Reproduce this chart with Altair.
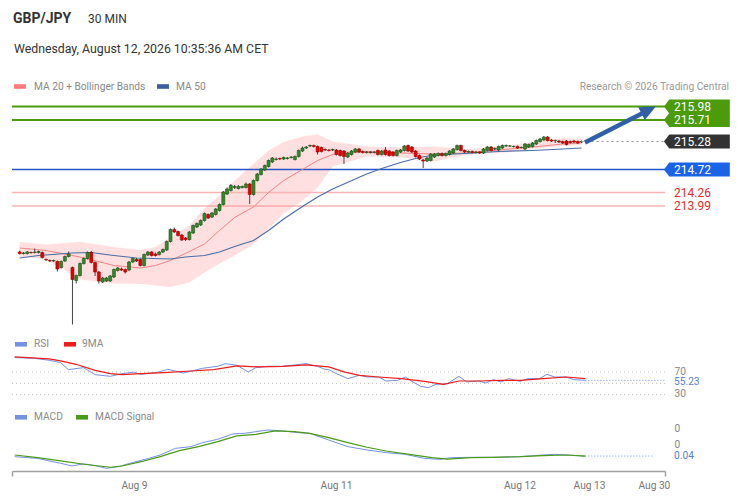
import math
import altair as alt
import pandas as pd

# ---------------- data ----------------
opens = [
    213.07, 213.04, 213.04, 213.06, 213.06, 213.06, 213.06, 212.92, 212.90, 212.89,
    212.88, 212.76, 212.89, 212.98, 212.76, 212.50, 212.60, 212.84, 212.94, 213.06,
    212.86, 212.67, 212.47, 212.49, 212.49, 212.57, 212.70, 212.73, 212.72, 212.71,
    212.87, 212.92, 212.92, 212.80, 213.01, 213.07, 213.03, 213.02, 213.07, 213.11,
    213.28, 213.52, 213.48, 213.41, 213.35, 213.32, 213.45, 213.57, 213.61, 213.70,
    213.82, 213.77, 213.82, 213.90, 214.02, 214.23, 214.30, 214.36, 214.34, 214.36,
    214.36, 214.43, 214.22, 214.50, 214.62, 214.71, 214.78, 214.87, 214.92, 214.94,
    214.93, 214.94, 214.96, 214.92, 214.98, 215.09, 215.15, 215.19, 215.20, 215.18,
    215.16, 215.12, 215.11, 215.11, 215.11, 215.10, 215.09, 214.97, 215.02, 215.07,
    215.13, 215.08, 215.06, 215.07, 215.06, 215.10, 215.02, 215.11, 215.09, 215.07,
    215.00, 215.07, 215.10, 215.20, 215.17, 215.09, 215.00, 214.91, 214.89, 214.90,
    214.97, 215.00, 215.04, 215.00, 215.02, 215.05, 215.12, 215.20, 215.10, 215.07,
    215.08, 215.06, 215.07, 215.05, 215.10, 215.17, 215.13, 215.11, 215.15, 215.19,
    215.19, 215.18, 215.18, 215.16, 215.13, 215.17, 215.18, 215.23, 215.28, 215.31,
    215.37, 215.31, 215.30, 215.29, 215.28, 215.29, 215.28, 215.29, 215.28, 215.27,
]
closes = [
    213.04, 213.05, 213.07, 213.055, 213.07, 213.08, 212.96, 212.91, 212.89, 212.90,
    212.73, 212.88, 212.98, 213.03, 212.52, 212.60, 212.84, 212.94, 213.06, 212.86,
    212.67, 212.49, 212.55, 212.55, 212.59, 212.72, 212.75, 212.71, 212.67, 212.87,
    212.94, 212.89, 212.80, 213.02, 213.07, 213.00, 213.00, 213.07, 213.12, 213.28,
    213.52, 213.47, 213.40, 213.31, 213.32, 213.47, 213.60, 213.64, 213.70, 213.84,
    213.75, 213.85, 213.93, 214.02, 214.27, 214.33, 214.40, 214.38, 214.38, 214.38,
    214.43, 214.22, 214.50, 214.63, 214.73, 214.80, 214.90, 214.95, 214.93, 214.93,
    214.96, 214.95, 214.97, 214.98, 215.10, 215.15, 215.17, 215.20, 215.18, 215.07,
    215.08, 215.11, 215.10, 215.12, 215.02, 215.00, 214.98, 215.05, 215.09, 215.13,
    215.07, 215.06, 215.07, 215.06, 215.07, 215.02, 215.09, 215.02, 215.00, 215.00,
    215.10, 215.11, 215.19, 215.09, 215.07, 214.98, 214.93, 214.89, 214.95, 215.03,
    215.03, 215.04, 215.00, 215.04, 215.09, 215.13, 215.20, 215.10, 215.07, 215.08,
    215.06, 215.07, 215.05, 215.13, 215.17, 215.10, 215.14, 215.18, 215.20, 215.20,
    215.19, 215.18, 215.15, 215.16, 215.23, 215.22, 215.25, 215.30, 215.33, 215.37,
    215.30, 215.29, 215.30, 215.27, 215.25, 215.22, 215.26, 215.27, 215.25, 215.28,
]
highs = [
    213.10, 213.07, 213.09, 213.08, 213.14, 213.10, 213.08, 212.94, 212.92, 212.92,
    212.90, 212.90, 213.00, 213.08, 212.78, 212.62, 212.86, 212.96, 213.08, 213.09,
    212.88, 212.69, 212.57, 212.57, 212.61, 212.74, 212.77, 212.76, 212.74, 212.89,
    212.96, 212.95, 212.94, 213.04, 213.09, 213.09, 213.06, 213.09, 213.14, 213.30,
    213.54, 213.56, 213.50, 213.43, 213.37, 213.49, 213.62, 213.66, 213.72, 213.86,
    213.84, 213.87, 213.95, 214.04, 214.29, 214.36, 214.43, 214.41, 214.41, 214.40,
    214.46, 214.45, 214.52, 214.65, 214.75, 214.82, 214.92, 214.97, 214.96, 214.96,
    214.98, 214.97, 214.99, 215.00, 215.12, 215.18, 215.19, 215.22, 215.22, 215.20,
    215.18, 215.14, 215.13, 215.14, 215.13, 215.12, 215.11, 215.07, 215.11, 215.15,
    215.15, 215.10, 215.09, 215.09, 215.09, 215.12, 215.11, 215.17, 215.11, 215.09,
    215.12, 215.13, 215.21, 215.22, 215.19, 215.11, 215.02, 214.93, 214.97, 215.05,
    215.05, 215.06, 215.06, 215.06, 215.11, 215.15, 215.22, 215.22, 215.12, 215.10,
    215.10, 215.09, 215.09, 215.15, 215.19, 215.19, 215.16, 215.20, 215.22, 215.22,
    215.21, 215.20, 215.20, 215.18, 215.25, 215.24, 215.27, 215.32, 215.35, 215.39,
    215.39, 215.33, 215.32, 215.31, 215.30, 215.31, 215.30, 215.31, 215.30, 215.30,
]
lows = [
    213.02, 213.02, 213.02, 213.04, 213.04, 213.04, 212.94, 212.89, 212.87, 212.87,
    212.68, 212.74, 212.87, 212.96, 211.62, 212.44, 212.58, 212.82, 212.92, 212.84,
    212.59, 212.44, 212.45, 212.47, 212.47, 212.55, 212.68, 212.69, 212.64, 212.69,
    212.85, 212.87, 212.78, 212.78, 212.99, 212.98, 212.98, 213.00, 213.05, 213.09,
    213.26, 213.45, 213.38, 213.29, 213.29, 213.30, 213.43, 213.55, 213.59, 213.68,
    213.73, 213.75, 213.80, 213.88, 214.00, 214.21, 214.28, 214.33, 214.32, 214.34,
    214.34, 214.03, 214.20, 214.48, 214.60, 214.69, 214.76, 214.85, 214.90, 214.91,
    214.91, 214.92, 214.94, 214.90, 214.96, 215.07, 215.13, 215.17, 215.16, 215.02,
    215.06, 215.09, 215.08, 215.09, 215.00, 214.98, 214.83, 214.95, 215.00, 215.05,
    215.05, 215.04, 215.04, 215.04, 215.04, 215.00, 215.00, 215.00, 214.98, 214.98,
    214.98, 215.05, 215.08, 215.07, 215.05, 214.96, 214.91, 214.75, 214.87, 214.88,
    214.95, 214.98, 214.98, 214.98, 215.00, 215.03, 215.10, 215.08, 215.05, 215.05,
    215.04, 215.04, 215.03, 215.03, 215.08, 215.08, 215.11, 215.09, 215.13, 215.17,
    215.17, 215.16, 215.13, 215.14, 215.11, 215.15, 215.16, 215.21, 215.26, 215.29,
    215.28, 215.27, 215.25, 215.25, 215.23, 215.20, 215.24, 215.25, 215.23, 215.25,
]

ma_idx = [0, 7, 16, 25, 32, 36, 40, 45, 49, 53, 57, 62, 66, 70, 75, 79, 83, 92, 101, 110, 118, 127, 136, 144, 149]
ma20 = [213.15, 213.10, 212.97, 212.80, 212.75, 212.80, 212.90, 213.08, 213.23, 213.50, 213.76, 213.97, 214.26,
        214.50, 214.72, 214.90, 215.02, 215.08, 215.05, 215.03, 215.05, 215.11, 215.17, 215.23, 215.25]
bb_upper = [213.27, 213.22, 213.27, 213.17, 213.11, 213.17, 213.36, 213.60, 213.94, 214.20, 214.50, 214.83, 215.10,
            215.27, 215.38, 215.42, 215.28, 215.18, 215.16, 215.18, 215.13, 215.17, 215.27, 215.35, 215.33]
bb_lower = [212.97, 212.93, 212.52, 212.44, 212.43, 212.40, 212.37, 212.46, 212.66, 212.84, 213.00, 213.22, 213.54,
            213.84, 214.10, 214.36, 214.78, 214.98, 214.96, 214.88, 215.01, 215.05, 215.13, 215.19, 215.21]

ma50_idx = [0, 5, 14, 19, 25, 31, 40, 44, 49, 53, 57, 62, 66, 70, 75, 79, 83, 92, 96, 101, 106, 110, 118, 127, 136, 144, 149]
ma50 = [212.95, 213.00, 213.05, 213.06, 213.00, 212.95, 212.93, 212.97, 213.00, 213.07, 213.18, 213.30, 213.50,
        213.73, 213.98, 214.17, 214.33, 214.63, 214.74, 214.86, 214.96, 215.01, 215.04, 215.08, 215.10, 215.13, 215.15]

rsi_idx = [0, 5, 9, 12, 14, 18, 21, 25, 28, 31, 33, 37, 40, 44, 47, 49, 53, 55, 58, 61, 63, 66, 70, 74, 76, 79, 81, 82,
           84, 87, 90, 92, 95, 97, 100, 102, 104, 106, 108, 110, 113, 116, 118, 121, 123, 125, 127, 129, 132, 134,
           137, 139, 141, 144, 146, 149]
rsi = [95.4, 94.2, 90.7, 86.6, 74.2, 77.7, 65.3, 62.4, 67.1, 69.5, 65.9, 68.9, 74.8, 68.3, 73.0, 76.5, 80.1, 84.8,
       81.9, 70.1, 77.7, 80.1, 80.1, 83.0, 84.8, 80.1, 74.8, 74.2, 67.1, 58.3, 64.2, 61.2, 61.2, 54.1, 55.3, 61.2,
       52.4, 44.7, 42.3, 48.2, 49.4, 62.4, 52.4, 54.1, 50.6, 56.5, 52.4, 58.3, 53.5, 58.3, 58.3, 65.9, 61.2, 61.2,
       56.5, 55.23]
rsi9_idx = [0, 9, 12, 16, 21, 25, 28, 33, 39, 46, 52, 58, 64, 70, 76, 82, 86, 90, 95, 101, 107, 112, 116, 121, 127,
            132, 138, 144, 149]
rsi9 = [96.6, 93.1, 89.5, 83.6, 73.0, 67.1, 65.3, 67.1, 68.9, 71.8, 74.2, 80.7, 78.9, 80.1, 82.4, 78.9, 70.1, 64.2,
        61.2, 58.3, 53.5, 48.2, 54.1, 54.1, 55.3, 55.3, 58.3, 61.2, 58.3]

macd_idx = [0, 6, 10, 12, 15, 18, 21, 24, 27, 31, 35, 38, 42, 46, 49, 53, 57, 60, 63, 66, 70, 74, 77, 82, 87, 92, 97,
            102, 107, 111, 114, 119, 125, 132, 138, 141, 149]
macd = [0.034, 0.018, -0.013, -0.028, -0.053, -0.032, -0.050, -0.075, -0.060, -0.019, 0.018, 0.050, 0.112, 0.128,
        0.165, 0.197, 0.247, 0.253, 0.268, 0.284, 0.275, 0.259, 0.253, 0.190, 0.128, 0.097, 0.072, 0.056, 0.018,
        0.009, 0.025, 0.028, 0.028, 0.034, 0.050, 0.056, 0.040]
signal_idx = [0, 6, 12, 18, 25, 28, 33, 38, 43, 48, 53, 58, 63, 68, 73, 77, 82, 87, 92, 97, 103, 109, 113, 119, 125,
              132, 138, 144, 149]
signal = [0.050, 0.025, -0.006, -0.037, -0.065, -0.053, -0.013, 0.034, 0.090, 0.128, 0.175, 0.228, 0.243, 0.275,
          0.268, 0.253, 0.212, 0.165, 0.122, 0.087, 0.056, 0.025, 0.012, 0.025, 0.028, 0.034, 0.044, 0.050, 0.040]

level_prices = [215.98, 215.71, 214.72, 214.26, 213.99]
label_prices = [215.98, 215.71, 215.28, 214.72, 214.26, 213.99]
current_price = 215.28
rsi_levels = [70, 50, 30]
rsi_tick_values = [70, 30]
rsi_last = 55.23
macd_tick_values = [0.3, 0.15]
macd_tick_labels = ["0", "0"]
macd_last = 0.04
x_label_pos = [31.15, 83.9, 131.8, 149.96, 166.9]
x_labels = ["Aug 9", "Aug 11", "Aug 12", "Aug 13", "Aug 30"]
target_price = 215.98
target_idx = 168.7
arrow_start = (149.9, 215.26)

# ---------------- styles ----------------
level_colors = ["#4b9b0b", "#4b9b0b", "#2556c8", "#fbb3b3", "#f29090"]
level_widths = [2, 2, 1.5, 1.5, 1]
label_box = ["#4b9b0b", "#4b9b0b", "#333333", "#1b63e6", None, None]
label_tc = ["#ffffff", "#ffffff", "#ffffff", "#ffffff", "#e52a2a", "#e52a2a"]

W = 653
H1, H2, H3 = 239, 51, 47
XD = [-0.705, 169.8]
YD1 = [211.37, 216.15]
YD2 = [10, 100]
YD3 = [-0.1, 0.34]
px_i = W / (XD[1] - XD[0])
px_p = H1 / (YD1[1] - YD1[0])
FONT = "Roboto"
SMALL = 10.2

xs = alt.Scale(domain=XD, nice=False, zero=False)
ys1 = alt.Scale(domain=YD1, nice=False, zero=False)
ys2 = alt.Scale(domain=YD2, nice=False, zero=False)
ys3 = alt.Scale(domain=YD3, nice=False, zero=False)

one = pd.DataFrame({"k": [0]})


def txt(s, x, y, size=SMALL, color="#8a8a8a", weight="normal", align="left"):
    return alt.Chart(pd.DataFrame({"t": [s]})).mark_text(
        align=align, baseline="middle", fontSize=size, color=color, fontWeight=weight, font=FONT
    ).encode(x=alt.value(x), y=alt.value(y), text="t:N")


def swatch(x, y, color):
    return alt.Chart(one).mark_rect(color=color).encode(
        x=alt.value(x), x2=alt.value(x + 12), y=alt.value(y - 2.3), y2=alt.value(y + 2.3)
    )


X0 = lambda f="i": alt.X(f"{f}:Q", scale=xs, axis=None)
Y1 = lambda f: alt.Y(f"{f}:Q", scale=ys1, axis=None)

# ---------------- panel 1: price ----------------
candles = pd.DataFrame({"i": list(range(len(opens))), "open": opens, "high": highs, "low": lows, "close": closes})
ind = pd.DataFrame({"i": ma_idx, "ma20": ma20, "up": bb_upper, "lo": bb_lower})
m50 = pd.DataFrame({"i": ma50_idx, "ma50": ma50})
levels = pd.DataFrame({"p": level_prices, "c": level_colors, "w": level_widths})
labels = pd.DataFrame({"p": label_prices, "t": [f"{p:.2f}" for p in label_prices], "box": label_box, "tc": label_tc})

band = alt.Chart(ind).mark_area(color="#ffdcdc", opacity=0.9).encode(x=X0(), y=Y1("up"), y2="lo:Q")
lv = alt.Chart(levels).mark_rule().encode(
    y=Y1("p"), color=alt.Color("c:N", scale=None), strokeWidth=alt.StrokeWidth("w:Q", scale=None)
)
l20 = alt.Chart(ind).mark_line(color="#f58484", strokeWidth=1).encode(x=X0(), y=Y1("ma20"))
l50 = alt.Chart(m50).mark_line(color="#4a6ea8", strokeWidth=1.2).encode(x=X0(), y=Y1("ma50"))

cbase = alt.Chart(candles).transform_calculate(d="datum.close >= datum.open ? 'up' : 'down'")
wicks = cbase.mark_rule(color="#444444", strokeWidth=1).encode(x=X0(), y=Y1("low"), y2="high:Q")
bodies = cbase.mark_bar(size=3, strokeWidth=0.6).encode(
    x=X0(), y=Y1("open"), y2="close:Q",
    fill=alt.Fill("d:N", scale=alt.Scale(domain=["up", "down"], range=["#2f8a2a", "#e00000"]), legend=None),
    stroke=alt.Stroke("d:N", scale=alt.Scale(domain=["up", "down"], range=["#1d561a", "#a30000"]), legend=None),
)

cur = alt.Chart(pd.DataFrame({"i": [len(opens) - 1], "p": [current_price]})).mark_rule(
    color="#999999", strokeDash=[2, 3], strokeWidth=1
).encode(x=X0(), x2=alt.value(W), y=Y1("p"))

# arrow towards the target
dx = (target_idx - arrow_start[0]) * px_i
dy = (target_price - arrow_start[1]) * px_p
ln = math.hypot(dx, dy)
back = 13.0
shaft_end = (target_idx - back * dx / ln / px_i, target_price - back * dy / ln / px_p)
ang = (360 - math.degrees(math.atan2(dy, dx))) % 360
shaft = alt.Chart(pd.DataFrame({"i": [arrow_start[0], shaft_end[0]], "p": [arrow_start[1], shaft_end[1]]})).mark_line(
    color="#2f5fa5", strokeWidth=4.5, strokeCap="butt"
).encode(x=X0(), y=Y1("p"))
head = alt.Chart(pd.DataFrame({"i": [target_idx], "p": [target_price]})).mark_point(
    shape="M0,0L-2,-0.9L-2,0.9Z", size=256, filled=True, color="#2f5fa5", opacity=1, angle=ang
).encode(x=X0(), y=Y1("p"))

boxes = alt.Chart(labels).transform_filter("datum.box != null").mark_point(
    shape="M0,0L0.75,-1L9.4,-1L9.4,1L0.75,1Z", size=196, filled=True, opacity=1, strokeWidth=0
).encode(x=alt.value(652), y=Y1("p"), fill=alt.Fill("box:N", scale=None))
ltext = alt.Chart(labels).mark_text(align="left", baseline="middle", fontSize=12, font=FONT).encode(
    x=alt.value(662), y=Y1("p"), text="t:N", color=alt.Color("tc:N", scale=None)
)

p1 = alt.layer(
    band, lv, l20, l50, wicks, bodies, cur, shaft, head, boxes, ltext,
    txt("GBP/JPY", 1, -79.5, size=14, color="#333333", weight="bold"),
    txt("30 MIN", 76, -79.5, size=12, color="#333333"),
    txt("Wednesday, August 12, 2026 10:35:36 AM CET", 2, -49.5, size=12.3, color="#333333"),
    swatch(2, -11.5, "#ff7b7b"), txt("MA 20 + Bollinger Bands", 22, -11.5),
    swatch(145, -11.5, "#3b5e9c"), txt("MA 50", 164, -11.5),
    txt("Research \u00a9 2026 Trading Central", 717, -11.5, color="#9a9a9a", align="right"),
).properties(width=W, height=H1)

# ---------------- panel 2: RSI ----------------
AY2 = alt.Axis(orient="right", values=rsi_tick_values, domain=False, ticks=False, grid=False, labelPadding=9,
               labelColor="#888888", labelFontSize=SMALL, labelFont=FONT, title=None, labelOffset=-1)
Y2 = lambda f: alt.Y(f"{f}:Q", scale=ys2, axis=AY2)
rl = alt.Chart(pd.DataFrame({"v": rsi_levels})).mark_rule(color="#c2c2c2", strokeDash=[1, 3], strokeWidth=1).encode(y=Y2("v"))
rsi_l = alt.Chart(pd.DataFrame({"i": rsi_idx, "v": rsi})).mark_line(color="#7392e4", strokeWidth=1).encode(x=X0(), y=Y2("v"))
rsi9_l = alt.Chart(pd.DataFrame({"i": rsi9_idx, "v": rsi9})).mark_line(color="#ee1c1c", strokeWidth=1.2).encode(x=X0(), y=Y2("v"))
rsi_last_df = pd.DataFrame({"i": [rsi_idx[-1]], "v": [rsi_last], "t": [f"{rsi_last:.2f}"]})
rsi_dot = alt.Chart(rsi_last_df).mark_rule(color="#7392e4", strokeDash=[1, 2]).encode(x=X0(), x2=alt.value(W), y=Y2("v"))
rsi_txt = alt.Chart(rsi_last_df).mark_text(align="left", baseline="middle", fontSize=SMALL, color="#5b7fdc", font=FONT, dy=1.2).encode(
    x=alt.value(662), y=Y2("v"), text="t:N")
p2 = alt.layer(
    rl, rsi_l, rsi9_l, rsi_dot, rsi_txt,
    swatch(3, -10.7, "#7392e4"), txt("RSI", 22, -10.7),
    swatch(52, -10.7, "#ee1c1c"), txt("9MA", 70, -10.7),
).properties(width=W, height=H2)

# ---------------- panel 3: MACD ----------------
lab_expr = "".join(
    f"abs(datum.value - {v}) < 0.01 ? '{t}' : " for v, t in zip(x_label_pos, x_labels)
) + "''"
AX3 = alt.Axis(
    values=[XD[0]] + x_label_pos + [XD[1]], labelExpr=lab_expr, grid=False, title=None,
    domainColor="#a0a0a0", domainWidth=1.5, tickSize=5, tickWidth=1.5,
    tickColor={"condition": {"test": f"datum.value < 0 || datum.value > {XD[1] - 0.5}", "value": "#a0a0a0"},
               "value": "transparent"},
    labelColor="#777777", labelFontSize=SMALL, labelFont=FONT, labelPadding=4, labelFlush=False, labelOverlap=False,
)
y3_expr = "".join(
    f"abs(datum.value - {v}) < 0.001 ? '{t}' : " for v, t in zip(macd_tick_values, macd_tick_labels)
) + "''"
AY3 = alt.Axis(orient="right", values=macd_tick_values, labelExpr=y3_expr, domain=False, ticks=False, grid=False,
               labelPadding=9, labelColor="#888888", labelFontSize=SMALL, labelFont=FONT, title=None)
X3 = lambda: alt.X("i:Q", scale=xs, axis=AX3)
Y3 = lambda f: alt.Y(f"{f}:Q", scale=ys3, axis=AY3)
macd_l = alt.Chart(pd.DataFrame({"i": macd_idx, "v": macd})).mark_line(color="#7392e4", strokeWidth=1).encode(x=X3(), y=Y3("v"))
sig_l = alt.Chart(pd.DataFrame({"i": signal_idx, "v": signal})).mark_line(color="#4a9a18", strokeWidth=1.2).encode(x=X3(), y=Y3("v"))
macd_last_df = pd.DataFrame({"i": [macd_idx[-1]], "v": [macd_last], "t": [f"{macd_last:.2f}"]})
macd_dot = alt.Chart(macd_last_df).mark_rule(color="#7392e4", strokeDash=[1, 2]).encode(x=X3(), x2=alt.value(W - 12), y=Y3("v"))
macd_txt = alt.Chart(macd_last_df).mark_text(align="left", baseline="middle", fontSize=SMALL, color="#5b7fdc", font=FONT).encode(
    x=alt.value(662), y=Y3("v"), text="t:N")
p3 = alt.layer(
    macd_l, sig_l, macd_dot, macd_txt,
    swatch(3, -6.7, "#7392e4"), txt("MACD", 22, -6.7),
    swatch(64, -6.7, "#4a9a18"), txt("MACD Signal", 83, -6.7),
).properties(width=W, height=H3)

chart = alt.vconcat(p1, p2, p3, spacing=18, bounds="flush").properties(
    padding={"left": 3, "top": 3, "right": 0, "bottom": 0}
).configure(font=FONT).configure_view(stroke=None, strokeWidth=0)

chart.save("out.html", embed_options={"renderer": "svg", "actions": False})
